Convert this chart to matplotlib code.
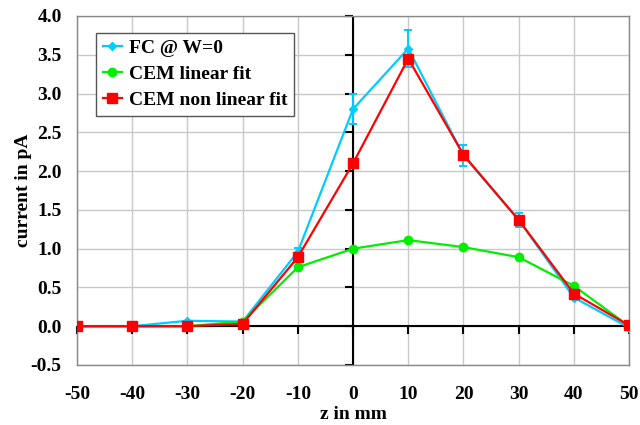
import matplotlib
matplotlib.use("Agg")
import matplotlib.pyplot as plt
from matplotlib.lines import TICKDOWN, TICKLEFT
import numpy as np

# ── Data ──────────────────────────────────────────────────────────────────────
z_mm = [-50, -40, -30, -20, -10, 0, 10, 20, 30, 40, 50]

fc_w0 = [0.0, 0.0, 0.07, 0.06, 0.96, 2.80, 3.58, 2.20, 1.37, 0.37, -0.02]
fc_err = [0.0, 0.0, 0.0, 0.0, 0.05, 0.19, 0.24, 0.14, 0.09, 0.02, 0.0]
cem_linear = [0.0, 0.0, 0.0, 0.06, 0.76, 1.00, 1.11, 1.02, 0.89, 0.52, 0.0]
cem_nonlinear = [0.0, 0.0, 0.0, 0.03, 0.89, 2.10, 3.45, 2.21, 1.37, 0.42, 0.01]

x_ticks = np.arange(-50, 51, 10)
y_ticks = np.arange(-0.5, 4.01, 0.5)

FC_COLOR = "#00CCFF"
LIN_COLOR = "#00EE00"
NONLIN_COLOR = "#FF0000"

plt.rcParams.update({
    "font.family": "Liberation Serif",
    "font.weight": "bold",
    "axes.labelweight": "bold",
})

fig = plt.figure(figsize=(6.4, 4.25), dpi=100)
ax = fig.add_axes([0.1203, 0.1412, 0.8627, 0.8212])

ax.set_xlim(-50, 50)
ax.set_ylim(-0.5, 4.0)
ax.set_xticks(x_ticks)
ax.set_yticks(y_ticks)
ax.set_xticklabels([f"{v:d}" for v in x_ticks])
ax.set_yticklabels([f"{v:.1f}" for v in y_ticks])
ax.tick_params(length=0, labelsize=14)
ax.tick_params(axis="x", pad=15)
ax.tick_params(axis="y", pad=11)
ax.grid(True, color="#C8C8C8", linewidth=1.0)
ax.set_axisbelow(True)
for sp in ax.spines.values():
    sp.set_color("#888888")
    sp.set_linewidth(1.0)

# black zero axes with their own tick marks
ax.axhline(0, color="black", linewidth=1.5, zorder=2)
ax.axvline(0, color="black", linewidth=1.5, zorder=2)
ax.plot(x_ticks, np.zeros_like(x_ticks), ls="none", marker=TICKDOWN,
        ms=6, mew=1.5, color="black", zorder=2, clip_on=False)
ax.plot(np.zeros_like(y_ticks), y_ticks, ls="none", marker=TICKLEFT,
        ms=6, mew=1.5, color="black", zorder=2, clip_on=False)

fc = ax.errorbar(z_mm, fc_w0, yerr=fc_err, color=FC_COLOR, linewidth=1.6,
                 marker="D", markersize=4.5, capsize=3, capthick=1.4,
                 elinewidth=1.4, zorder=3)
lin, = ax.plot(z_mm, cem_linear, color=LIN_COLOR, linewidth=1.6, marker="o",
               markersize=6, zorder=4)
nonlin, = ax.plot(z_mm, cem_nonlinear, color=NONLIN_COLOR, linewidth=1.6,
                  marker="s", markersize=6.5, zorder=5)

ax.set_xlabel("z in mm", fontsize=14, labelpad=2)
ax.set_ylabel("current in pA", fontsize=14, labelpad=-1)

leg = ax.legend([fc.lines[0], lin, nonlin],
                ["FC @ W=0", "CEM linear fit", "CEM non linear fit"],
                loc="upper left", bbox_to_anchor=(0.034, 0.952), fontsize=14,
                frameon=True, fancybox=False, handlelength=1.0,
                handletextpad=0.35, borderpad=0.35, labelspacing=0.42,
                borderaxespad=0)
leg.get_frame().set_edgecolor("#555555")
leg.get_frame().set_linewidth(1.0)
leg.get_frame().set_alpha(1.0)

fig.savefig("out.png", dpi=100)
